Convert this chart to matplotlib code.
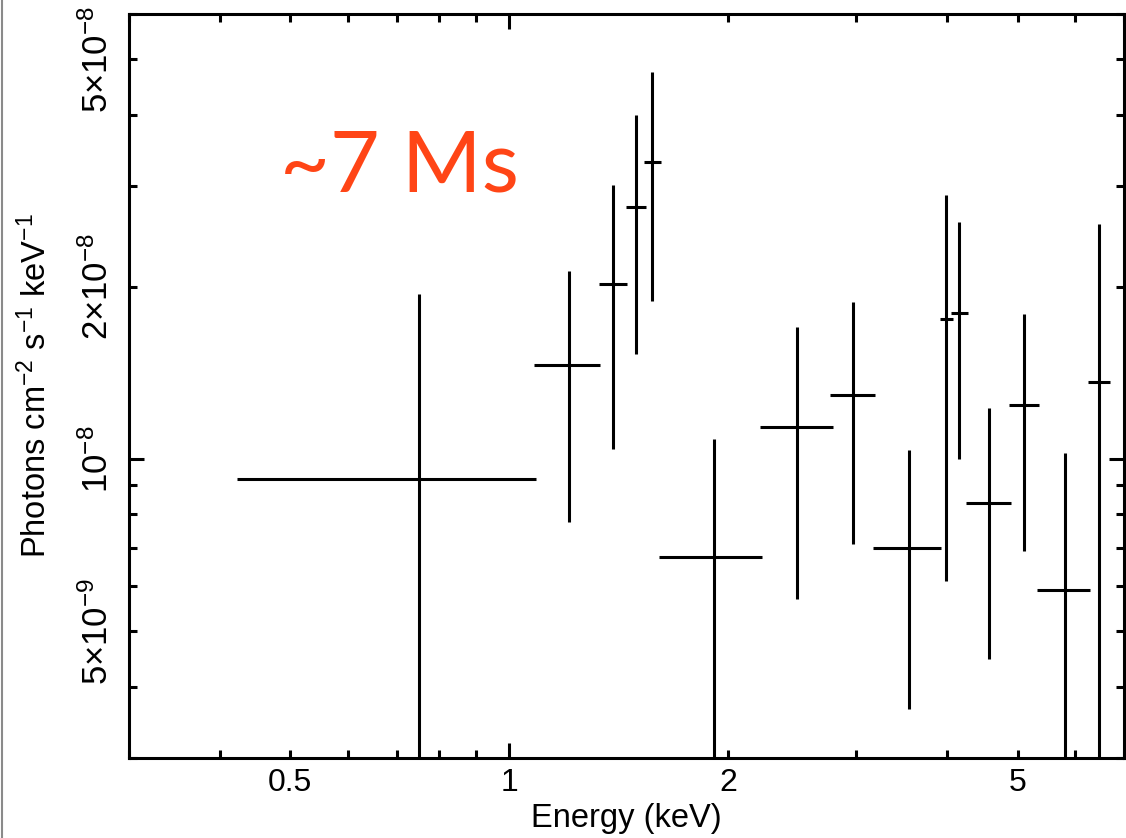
import numpy as np
import matplotlib
matplotlib.use("Agg")
import matplotlib.pyplot as plt
from matplotlib.ticker import LogLocator, FuncFormatter
from matplotlib.lines import Line2D

# ---- data ----
energy = [0.752, 1.209, 1.390, 1.495, 1.573, 1.914, 2.490, 2.973, 3.539, 3.979, 4.146, 4.559, 5.093, 5.799, 6.461]
e_lo   = [0.4225, 1.082, 1.330, 1.448, 1.534, 1.608, 2.208, 2.764, 3.158, 3.904, 4.043, 4.239, 4.857, 5.308, 6.237]
e_hi   = [1.089, 1.334, 1.453, 1.543, 1.618, 2.222, 2.782, 3.178, 3.928, 4.068, 4.266, 4.888, 5.341, 6.280, 6.690]
flux   = [0.922e-8, 1.458e-8, 2.025e-8, 2.755e-8, 3.307e-8, 0.673e-8, 1.136e-8, 1.295e-8,
          0.700e-8, 1.756e-8, 1.800e-8, 0.836e-8, 1.241e-8, 0.589e-8, 1.364e-8]
flux_lo = [0.0, 0.775e-8, 1.041e-8, 1.524e-8, 1.889e-8, 0.0, 0.569e-8, 0.711e-8,
           0.366e-8, 0.612e-8, 1.000e-8, 0.4465e-8, 0.690e-8, 0.0, 0.0]
flux_hi = [1.944e-8, 2.134e-8, 3.012e-8, 4.000e-8, 4.744e-8, 1.083e-8, 1.703e-8, 1.881e-8,
           1.035e-8, 2.895e-8, 2.594e-8, 1.226e-8, 1.791e-8, 1.024e-8, 2.575e-8]

x_tick_labels = {0.5: "0.5", 1.0: "1", 2.0: "2", 5.0: "5"}
y_tick_labels = {5e-9: "5×10$^{-9}$", 1e-8: "10$^{-8}$", 2e-8: "2×10$^{-8}$", 5e-8: "5×10$^{-8}$"}
annotation = "~7 Ms"

plt.rcParams["font.family"] = ["Liberation Sans", "DejaVu Sans"]
plt.rcParams["mathtext.fontset"] = "custom"
plt.rcParams["mathtext.rm"] = "Liberation Sans"
plt.rcParams["mathtext.it"] = "Liberation Sans:italic"
plt.rcParams["mathtext.bf"] = "Liberation Sans:bold"

W, H = 1126, 838
fig = plt.figure(figsize=(W / 100, H / 100), dpi=100)
ax = fig.add_axes([129 / W, 1 - 758 / H, (1124 - 129) / W, (758 - 14) / H])

e = np.array(energy)
f = np.array(flux)
flo = np.maximum(np.array(flux_lo), 1e-12)
fhi = np.array(flux_hi)
xerr = [e - np.array(e_lo), np.array(e_hi) - e]
yerr = [f - flo, fhi - f]
ax.errorbar(e, f, xerr=xerr, yerr=yerr, fmt="none", ecolor="black",
            elinewidth=2.2, capsize=0)

ax.set_xscale("log")
ax.set_yscale("log")
ax.set_xlim(0.3, 7.0)
ax.set_ylim(3e-9, 6e-8)

for axis in (ax.xaxis, ax.yaxis):
    axis.set_major_locator(LogLocator(base=10))
    axis.set_minor_locator(LogLocator(base=10, subs=np.arange(2, 10)))


def make_fmt(d):
    def fmt(v, pos):
        for k, s in d.items():
            if np.isclose(v, k, rtol=1e-6, atol=0):
                return s
        return ""
    return FuncFormatter(fmt)


ax.xaxis.set_major_formatter(make_fmt(x_tick_labels))
ax.xaxis.set_minor_formatter(make_fmt(x_tick_labels))
ax.yaxis.set_major_formatter(make_fmt(y_tick_labels))
ax.yaxis.set_minor_formatter(make_fmt(y_tick_labels))

ax.tick_params(which="both", direction="in", top=True, right=True, width=2.2,
               color="black")
ax.tick_params(which="major", length=11)
ax.tick_params(which="minor", length=5.8)
ax.tick_params(axis="x", which="both", pad=7, labelsize=23)
ax.tick_params(axis="y", which="both", pad=10, labelrotation=90, labelsize=25)
for lab in ax.yaxis.get_ticklabels(which="both"):
    lab.set_verticalalignment("center")

for sp in ax.spines.values():
    sp.set_linewidth(2.2)

ax.set_xlabel("Energy (keV)", fontsize=23.5, labelpad=4)
ax.set_ylabel("Photons cm$^{-2}$ s$^{-1}$ keV$^{-1}$", fontsize=23.5, labelpad=20)

fig.text(280 / W, 1 - 192 / H, annotation, ha="left", va="baseline",
         fontsize=62, family=["Lato", "DejaVu Sans"], color="#FF4516")

fig.add_artist(Line2D([2 / W, 2 / W], [0, 1], transform=fig.transFigure,
                      color="#8a8a8a", lw=1.5))

fig.savefig("out.png", dpi=100)
